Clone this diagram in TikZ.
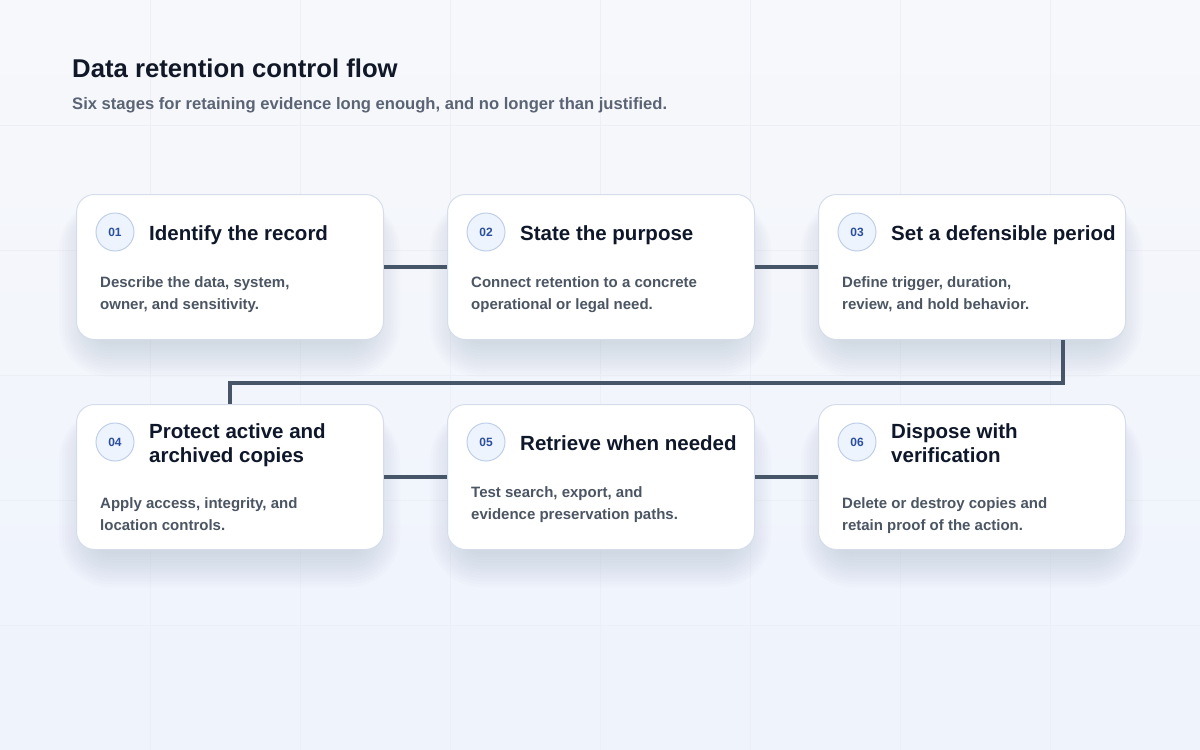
\documentclass[tikz,border=0pt]{standalone}
\usepackage{fontspec}
\setmainfont{Liberation Sans}
\definecolor{titleink}{HTML}{111827}
\definecolor{subink}{HTML}{5A6475}
\definecolor{headink}{HTML}{0F172A}
\definecolor{bodyink}{HTML}{4B5563}
\definecolor{badgeink}{HTML}{2B4F9E}
\definecolor{badgefill}{HTML}{EEF4FD}
\definecolor{badgeline}{HTML}{BFCFEA}
\definecolor{cardline}{HTML}{D6DDEA}
\definecolor{linkc}{HTML}{475569}
\definecolor{bgtop}{HTML}{F7F8FB}
\definecolor{bgbot}{HTML}{EEF3FC}
\definecolor{gridc}{HTML}{ECEFF5}
\definecolor{shadowc}{HTML}{5B6B90}

\begin{document}
\begin{tikzpicture}[x=1pt,y=-1pt,
    card/.style={draw=cardline, line width=1pt, fill=white, rounded corners=18pt,
      minimum width=307pt, minimum height=145pt, anchor=north west, inner sep=0pt},
    haze/.style={fill=shadowc, opacity=0.016},
    badge/.style={draw=badgeline, fill=badgefill, circle, line width=1pt, minimum size=38pt,
      inner sep=0pt, text=badgeink, font=\fontsize{12}{12}\selectfont\bfseries},
    head/.style={anchor=base west, align=left, inner sep=0pt, text=headink,
      font=\fontsize{20.5}{24}\selectfont\bfseries},
    body/.style={anchor=base west, align=left, inner sep=0pt, text=bodyink,
      font=\fontsize{15}{22}\selectfont\bfseries},
    link/.style={draw=linkc, line width=3.5pt},
    grid/.style={draw=gridc, line width=0.8pt}]

    \useasboundingbox (0,0) rectangle (1200,750);

    % background
    \shade[top color=bgtop, bottom color=bgbot] (0,0) rectangle (1200,750);
    \foreach \gx in {150,300,...,1050}
             { \draw[grid] (\gx,0) -- (\gx,750);}
    \foreach \gy in {125,250,...,625}
             { \draw[grid] (0,\gy) -- (1200,\gy);}

    % title
    \node (title) at (72,77) [anchor=base west, inner sep=0pt, text=titleink,
      font=\fontsize{25.7}{30}\selectfont\bfseries] {Data retention control flow};
    \node (sub) at (72,109) [anchor=base west, inner sep=0pt, text=subink,
      font=\fontsize{16.6}{20}\selectfont\bfseries]
      {Six stages for retaining evidence long enough, and no longer than justified.};

    % shadows
    \foreach \cx/\cy in {76/194,447/194,818/194,76/404,447/404,818/404}
             { \foreach \k in {0,3,...,33}
                        { \fill[haze, rounded corners=18pt+\k pt]
                          (\cx+16-\k,\cy+18-\k*0.4) rectangle (\cx+291+\k,\cy+150+\k);}}

    % cards
    \foreach \n/\cx/\cy/\hy/\by/\hd/\bd in {
        1/76/194/46/115/{Identify the record}/{Describe the data, system,\\owner, and sensitivity.},
        2/447/194/46/115/{State the purpose}/{Connect retention to a concrete\\operational or legal need.},
        3/818/194/46/115/{Set a defensible period}/{Define trigger, duration,\\review, and hold behavior.},
        4/76/404/58/126/{Protect active and\\archived copies}/{Apply access, integrity, and\\location controls.},
        5/447/404/46/115/{Retrieve when needed}/{Test search, export, and\\evidence preservation paths.},
        6/818/404/58/126/{Dispose with\\verification}/{Delete or destroy copies and\\retain proof of the action.}}
             { \node (c\n) at (\cx,\cy) [card] {};
               \node (b\n) at (\cx+39,\cy+38) [badge] {0\n};
               \node (h\n) at (\cx+73,\cy+\hy) [head] {\hd};
               \node (t\n) at (\cx+24,\cy+\by) [body] {\bd};}

    % links
    \draw[link] (c1.east) -- (c2.west) (c2.east) -- (c3.west);
    \draw[link] ([xshift=91pt]c3.south) -- ++(0,43) -| (c4.north);
    \draw[link] (c4.east) -- (c5.west) (c5.east) -- (c6.west);

\end{tikzpicture}
\end{document}
